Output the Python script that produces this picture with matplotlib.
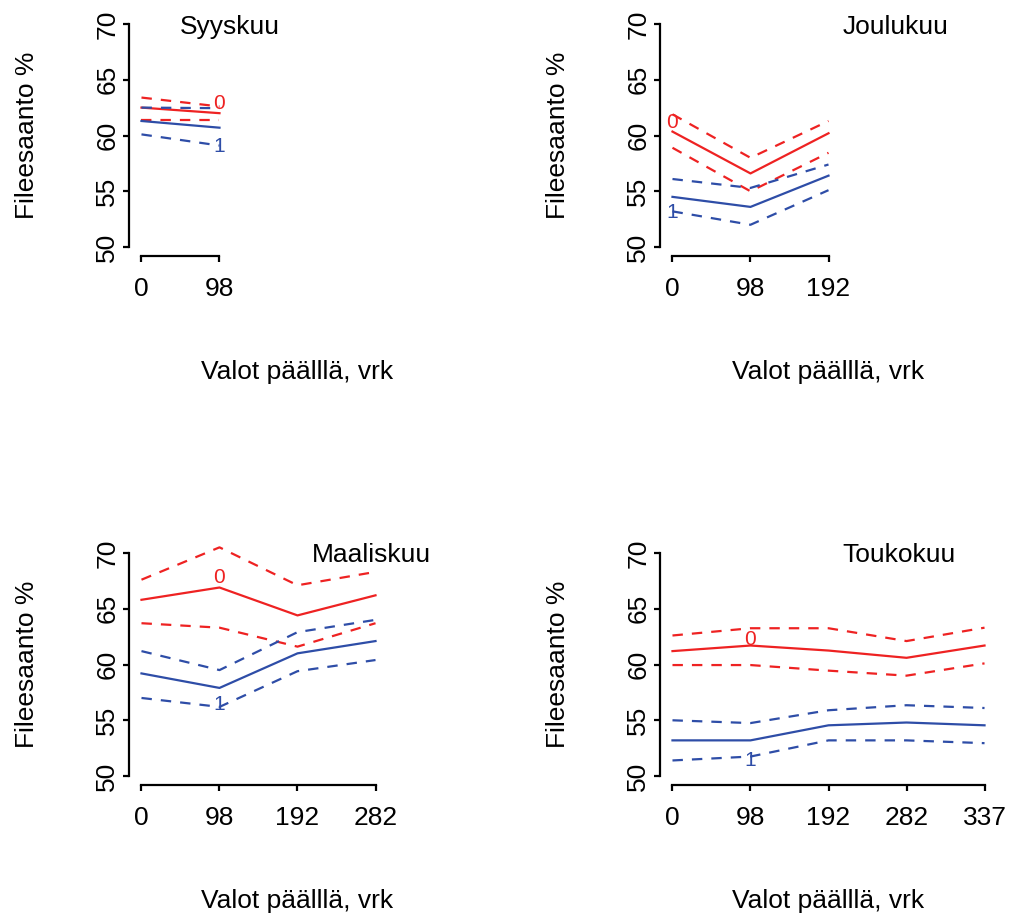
import matplotlib
matplotlib.use("Agg")
import matplotlib.pyplot as plt

plt.rcParams['font.family'] = ['Liberation Sans', 'DejaVu Sans']
plt.rcParams['lines.scale_dashes'] = False

RED = '#EE2222'
BLUE = '#2E4DA7'

# ---------------------------------------------------------------------------
# data: (days with lights on, group 0 = red, group 1 = blue)
# mean, upper and lower limit for each group
# ---------------------------------------------------------------------------
syys_days = [0, 98]
syys_r = [62.5, 62.0]
syys_r_hi = [63.4, 62.6]
syys_r_lo = [61.4, 61.4]
syys_b = [61.3, 60.7]
syys_b_hi = [62.5, 62.45]
syys_b_lo = [60.1, 59.1]

joulu_days = [0, 98, 192]
joulu_r = [60.35, 56.6, 60.2]
joulu_r_hi = [61.9, 58.0, 61.3]
joulu_r_lo = [58.9, 55.0, 58.45]
joulu_b = [54.5, 53.6, 56.4]
joulu_b_hi = [56.1, 55.3, 57.4]
joulu_b_lo = [53.2, 52.0, 55.1]

maalis_days = [0, 98, 192, 282]
maalis_r = [65.8, 66.9, 64.4, 66.2]
maalis_r_hi = [67.6, 70.5, 67.1, 68.3]
maalis_r_lo = [63.7, 63.3, 61.6, 63.7]
maalis_b = [59.2, 57.9, 61.0, 62.1]
maalis_b_hi = [61.2, 59.5, 62.9, 64.0]
maalis_b_lo = [57.0, 56.2, 59.4, 60.4]

touko_days = [0, 98, 192, 282, 337]
touko_r = [61.2, 61.7, 61.25, 60.6, 61.7]
touko_r_hi = [62.6, 63.25, 63.25, 62.1, 63.3]
touko_r_lo = [59.95, 59.95, 59.45, 59.0, 60.1]
touko_b = [53.2, 53.2, 54.55, 54.8, 54.55]
touko_b_hi = [55.0, 54.75, 55.9, 56.35, 56.1]
touko_b_lo = [51.4, 51.75, 53.2, 53.2, 52.95]

panels = [
    ("Syyskuu", syys_days, syys_r, syys_r_hi, syys_r_lo, syys_b, syys_b_hi, syys_b_lo,
     (2, 62.85), (2, 59.05), (0.30, 0.95)),
    ("Joulukuu", joulu_days, joulu_r, joulu_r_hi, joulu_r_lo, joulu_b, joulu_b_hi, joulu_b_lo,
     (1, 61.2), (1, 53.1), (0.70, 0.95)),
    ("Maaliskuu", maalis_days, maalis_r, maalis_r_hi, maalis_r_lo, maalis_b, maalis_b_hi, maalis_b_lo,
     (2, 67.8), (2, 56.4), (0.72, 0.955)),
    ("Toukokuu", touko_days, touko_r, touko_r_hi, touko_r_lo, touko_b, touko_b_hi, touko_b_lo,
     (2, 62.25), (2, 51.4), (0.71, 0.955)),
]

W, H = 1012, 916
fig = plt.figure(figsize=(W / 100, H / 100), dpi=100)

# axes boxes in pixels: left, top, width, height
boxes = [(129, 15, 337, 241), (660, 15, 337, 241),
         (129, 544, 337, 241), (660, 544, 337, 241)]

for (title, days, r, r_hi, r_lo, b, b_hi, b_lo, lab0, lab1, tpos), box in zip(panels, boxes):
    left, top, w, h = box
    ax = fig.add_axes([left / W, 1 - (top + h) / H, w / W, h / H])
    x = list(range(1, len(days) + 1))

    ax.plot(x, r, color=RED, lw=1.6)
    ax.plot(x, r_hi, color=RED, lw=1.6, dashes=(7.5, 6.5))
    ax.plot(x, r_lo, color=RED, lw=1.6, dashes=(7.5, 6.5))
    ax.plot(x, b, color=BLUE, lw=1.6)
    ax.plot(x, b_hi, color=BLUE, lw=1.6, dashes=(7.5, 6.5))
    ax.plot(x, b_lo, color=BLUE, lw=1.6, dashes=(7.5, 6.5))

    ax.text(lab0[0], lab0[1], "0", color=RED, fontsize=15, ha='center', va='center')
    ax.text(lab1[0], lab1[1], "1", color=BLUE, fontsize=15, ha='center', va='center')

    ax.set_xlim(0.84, 5.16)
    ax.set_ylim(49.2, 70.8)
    for s in ['top', 'right']:
        ax.spines[s].set_visible(False)
    ax.spines['left'].set_bounds(50, 70)
    ax.spines['bottom'].set_bounds(1, len(days))
    ax.spines['left'].set_linewidth(1.6)
    ax.spines['bottom'].set_linewidth(1.6)

    ax.set_xticks(x)
    ax.set_xticklabels([str(d) for d in days])
    ax.set_yticks([50, 55, 60, 65, 70])
    ax.set_yticklabels(['50', '55', '60', '65', '70'], rotation=90, va='center')
    ax.tick_params(axis='both', labelsize=19, length=4, width=1.6, direction='out')
    ax.tick_params(axis='x', pad=11)
    ax.tick_params(axis='y', pad=3)

    ax.text(tpos[0], tpos[1], title, transform=ax.transAxes, fontsize=19,
            ha='center', va='center')
    ax.text(0.5, -0.48, "Valot päälllä, vrk", transform=ax.transAxes, fontsize=19,
            ha='center', va='center')
    ax.text(-0.303, 0.5, "Fileesaanto %", transform=ax.transAxes, fontsize=19,
            rotation=90, ha='center', va='center')

fig.savefig('out.png', dpi=100)
